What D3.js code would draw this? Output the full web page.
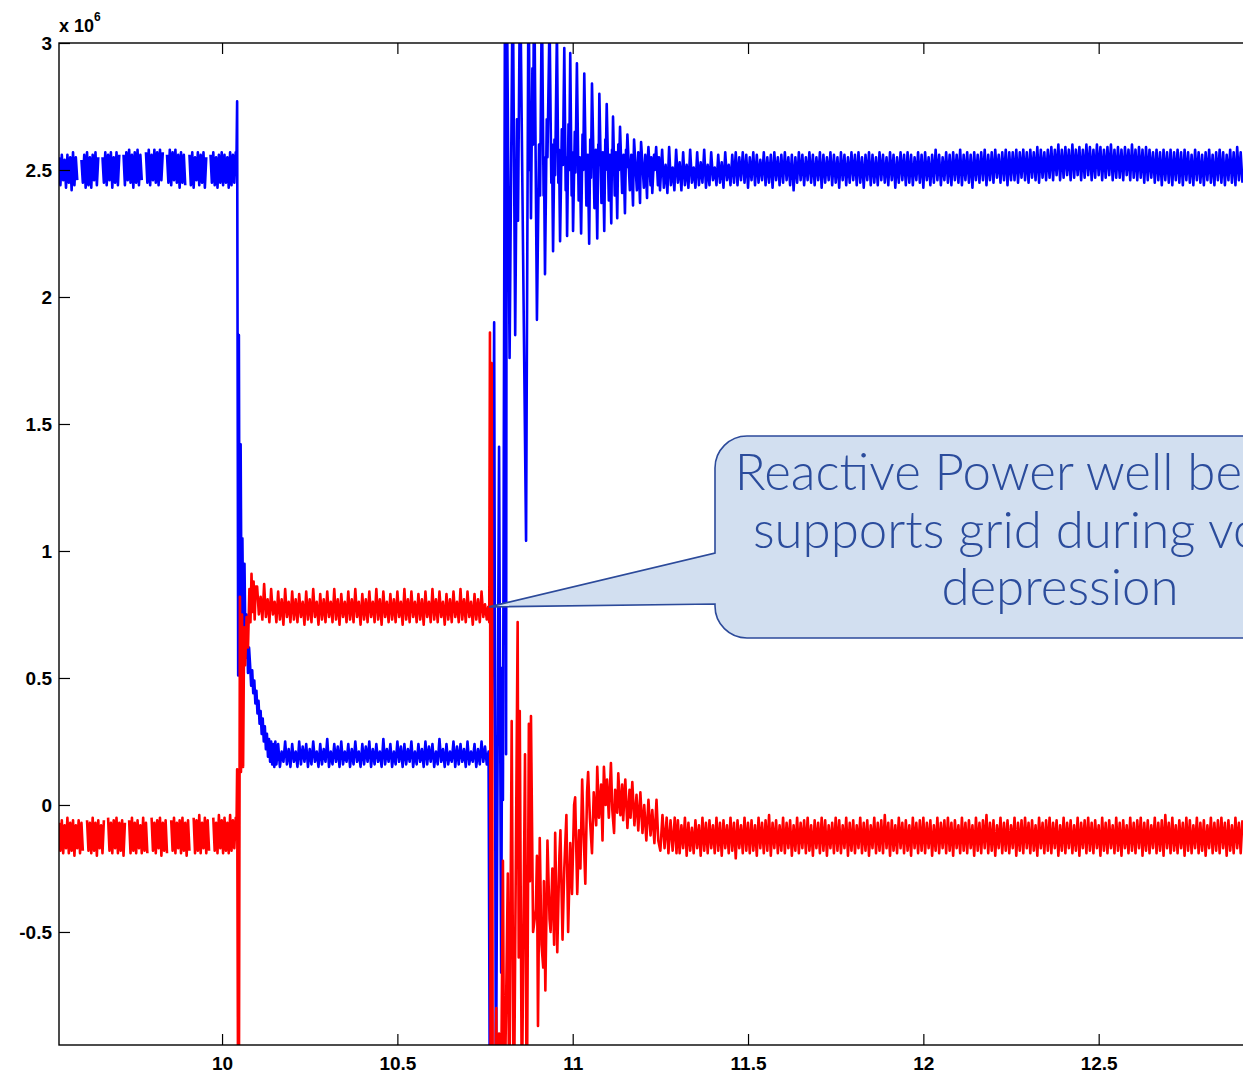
<!DOCTYPE html>
<html>

<head>
    <meta charset="utf-8">
    <title>P and Q during voltage dip</title>
    <script src="https://d3js.org/d3.v7.min.js"></script>
    <style>
        body { margin: 0; background: #fff; }
        .tick text { font-family: 'Liberation Sans', Arial, sans-serif; font-weight: bold; font-size: 19px; fill: #000; }
        .tick line { stroke: #000; stroke-width: 1.2; }
    </style>
</head>

<body>
    <svg width="1243" height="1073" id="mainsvg"></svg>
    <script>
        // time in s, power in units of 10^6
        const xTickVals = [10, 10.5, 11, 11.5, 12, 12.5];
        const xTickLabels = ['10', '10.5', '11', '11.5', '12', '12.5'];
        const yTickVals = [-0.5, 0, 0.5, 1, 1.5, 2, 2.5, 3];
        const yTickLabels = ['-0.5', '0', '0.5', '1', '1.5', '2', '2.5', '3'];

        // ---- blue trace (active power) ----
        // before the fault: samples every 4 ms from 9.535 s
        const bluePreStart = 9.535, bluePreStep = 0.004;
        const bluePre = [
            2.55, 2.44, 2.56, 2.46, 2.54, 2.43, 2.56, 2.45, 2.55, 2.42, 2.57, 2.44, 2.55, 2.46, null, null,
            2.54, 2.45, 2.56, 2.43, 2.57, 2.44, 2.55, 2.43, 2.56, 2.46, 2.57, 2.44, 2.55, null, null,
            2.55, 2.45, 2.57, 2.44, 2.56, 2.46, 2.57, 2.43, 2.55, 2.45, 2.57, 2.44, 2.56, null, null,
            2.56, 2.44, 2.57, 2.46, 2.58, 2.45, 2.56, 2.43, 2.57, 2.45, 2.58, 2.44, 2.56, 2.46, null, null,
            2.57, 2.45, 2.58, 2.44, 2.56, 2.46, 2.58, 2.45, 2.57, 2.44, 2.58, 2.46, 2.57, null, null,
            2.56, 2.45, 2.58, 2.44, 2.57, 2.46, 2.58, 2.45, 2.56, 2.43, 2.57, 2.45, 2.56, 2.44, null, null,
            2.56, 2.44, 2.57, 2.43, 2.55, 2.46, 2.57, 2.44, 2.56, 2.45, 2.57, 2.43, 2.55, null, null,
            2.56, 2.45, 2.57, 2.44, 2.55, 2.43, 2.56, 2.45, 2.57, 2.44, 2.56, 2.45, 2.55, 2.43, 2.57, 2.44, 2.56, 2.45, 2.57
        ];
        // fault inception
        const blueFault = [
            [10.041, 2.52], [10.043, 2.77], [10.046, 0.51], [10.048, 1.85], [10.050, 0.75], [10.053, 1.42],
            [10.056, 0.62], [10.058, 1.05], [10.061, 0.60], [10.064, 0.95], [10.067, 0.58], [10.070, 0.75],
            [10.074, 0.52], [10.077, 0.62], [10.080, 0.55], [10.083, 0.47], [10.086, 0.53], [10.089, 0.44],
            [10.092, 0.49], [10.095, 0.40], [10.098, 0.45], [10.101, 0.36], [10.104, 0.41], [10.107, 0.32],
            [10.110, 0.37], [10.113, 0.28], [10.116, 0.34], [10.119, 0.25], [10.122, 0.31], [10.125, 0.22],
            [10.128, 0.28], [10.131, 0.19], [10.134, 0.26], [10.137, 0.17], [10.140, 0.25], [10.143, 0.16],
            [10.146, 0.24], [10.149, 0.15], [10.152, 0.25], [10.155, 0.16]
        ];
        // during the dip: every 5 ms from 10.16 s
        const blueMidStart = 10.16, blueMidStep = 0.005;
        const blueMid = [
            0.24, 0.15, 0.21, 0.17, 0.25, 0.16, 0.22, 0.15, 0.24, 0.17, 0.21, 0.15, 0.25, 0.16, 0.23, 0.17, 0.24, 0.15, 0.22, 0.16,
            0.25, 0.17, 0.21, 0.15, 0.24, 0.16, 0.22, 0.17, 0.26, 0.15, 0.21, 0.16, 0.24, 0.17, 0.23, 0.15, 0.25, 0.16, 0.21, 0.17,
            0.24, 0.15, 0.22, 0.16, 0.25, 0.17, 0.21, 0.15, 0.24, 0.16, 0.23, 0.17, 0.25, 0.15, 0.22, 0.16, 0.24, 0.17, 0.21, 0.15,
            0.26, 0.16, 0.22, 0.17, 0.24, 0.15, 0.21, 0.16, 0.25, 0.17, 0.23, 0.15, 0.24, 0.16, 0.22, 0.17, 0.25, 0.15, 0.21, 0.16,
            0.24, 0.17, 0.22, 0.15, 0.25, 0.16, 0.23, 0.17, 0.24, 0.15, 0.21, 0.16, 0.26, 0.17, 0.22, 0.15, 0.24, 0.16, 0.21, 0.17,
            0.25, 0.15, 0.23, 0.16, 0.24, 0.17, 0.22, 0.15, 0.25, 0.16, 0.21, 0.17, 0.24, 0.15, 0.22, 0.16, 0.25, 0.17, 0.23, 0.16
        ];
        // fault clearing and the decaying swing afterwards
        const blueClear = [
            [10.760, 0.21], [10.764, -1.3], [10.776, 1.90], [10.781, -1.2], [10.790, 1.41], [10.796, -0.66],
            [10.799, 0.54], [10.801, 0.02], [10.807, 3.3], [10.810, 0.2], [10.812, 3.3], [10.820, 1.76],
            [10.829, 3.3], [10.836, 1.85], [10.841, 2.7], [10.844, 2.3], [10.850, 3.3], [10.867, 1.04],
            [10.874, 3.3], [10.878, 2.5], [10.879, 2.7], [10.881, 2.31], [10.885, 2.9], [10.887, 2.6],
            [10.890, 3.3], [10.898, 1.91], [10.904, 2.6], [10.907, 2.4], [10.912, 3.2], [10.917, 2.4],
            [10.918, 2.55], [10.921, 2.09], [10.926, 2.7], [10.928, 2.55], [10.934, 3.1], [10.939, 2.45],
            [10.941, 2.6], [10.944, 2.18], [10.948, 2.62], [10.950, 2.48], [10.955, 3.05], [10.959, 2.45],
            [10.961, 2.58], [10.964, 2.22], [10.969, 2.66], [10.972, 2.52], [10.976, 2.98], [10.980, 2.42],
            [10.982, 2.55], [10.984, 2.24], [10.988, 2.68], [10.990, 2.50], [10.993, 2.96], [10.997, 2.40],
            [10.999, 2.57], [11.001, 2.26], [11.006, 2.65], [11.008, 2.49], [11.012, 2.92], [11.017, 2.38],
            [11.020, 2.55], [11.024, 2.25], [11.028, 2.64], [11.030, 2.50], [11.033, 2.88], [11.039, 2.36],
            [11.043, 2.56], [11.047, 2.21], [11.050, 2.62], [11.052, 2.47], [11.055, 2.84], [11.062, 2.35],
            [11.066, 2.58], [11.070, 2.23], [11.073, 2.60], [11.074, 2.52], [11.076, 2.80], [11.082, 2.37],
            [11.086, 2.57], [11.090, 2.26], [11.093, 2.62], [11.094, 2.50], [11.097, 2.76], [11.103, 2.38],
            [11.106, 2.56], [11.110, 2.29], [11.112, 2.58], [11.113, 2.50], [11.115, 2.71], [11.120, 2.40],
            [11.123, 2.57], [11.127, 2.31], [11.130, 2.60], [11.132, 2.50], [11.135, 2.67], [11.141, 2.41],
            [11.145, 2.56], [11.149, 2.33], [11.152, 2.58], [11.153, 2.51], [11.156, 2.64], [11.163, 2.42],
            [11.167, 2.56], [11.172, 2.36], [11.174, 2.55], [11.175, 2.62], [11.183, 2.42], [11.187, 2.57],
            [11.192, 2.37], [11.194, 2.55], [11.195, 2.61], [11.203, 2.43], [11.207, 2.56], [11.212, 2.39],
            [11.214, 2.54], [11.216, 2.59], [11.222, 2.44], [11.224, 2.55], [11.227, 2.41], [11.232, 2.56],
            [11.234, 2.50], [11.238, 2.59], [11.243, 2.44], [11.246, 2.55], [11.249, 2.42]
        ];
        // after recovery: every 5 ms from 11.255 s
        const bluePostStart = 11.255, bluePostStep = 0.005;
        const bluePost = [
            2.58, 2.43, 2.52, 2.41, 2.59, 2.44, 2.51, 2.42, 2.58, 2.45, 2.53, 2.42, 2.57, 2.44, 2.52, 2.43, 2.58, 2.45, 2.51, 2.43,
            2.57, 2.44, 2.53, 2.45, 2.58, 2.43, 2.52, 2.44, 2.57, 2.46, 2.51, 2.44, 2.56, 2.45, 2.53, 2.43, 2.57, 2.46, 2.52, 2.44,
            2.56, 2.45, 2.57, 2.44, 2.55, 2.46, 2.57, 2.45, 2.56, 2.43, 2.55, 2.46, 2.57, 2.44, 2.56, 2.45, 2.54, 2.46, 2.57, 2.44,
            2.55, 2.45, 2.56, 2.43, 2.57, 2.46, 2.55, 2.44, 2.56, 2.45, 2.57, 2.46, 2.55, 2.44, 2.56, 2.42, 2.55, 2.45, 2.57, 2.46,
            2.56, 2.44, 2.55, 2.46, 2.57, 2.45, 2.56, 2.44, 2.55, 2.46, 2.57, 2.43, 2.56, 2.45, 2.55, 2.46, 2.57, 2.44, 2.56, 2.45,
            2.55, 2.43, 2.57, 2.46, 2.56, 2.44, 2.55, 2.45, 2.57, 2.46, 2.56, 2.44, 2.57, 2.45, 2.55, 2.43, 2.56, 2.46, 2.57, 2.44,
            2.56, 2.45, 2.55, 2.44, 2.57, 2.46, 2.56, 2.45, 2.55, 2.44, 2.57, 2.46, 2.56, 2.43, 2.55, 2.45, 2.57, 2.46, 2.56, 2.44,
            2.57, 2.45, 2.56, 2.44, 2.55, 2.46, 2.57, 2.45, 2.56, 2.43, 2.57, 2.46, 2.55, 2.44, 2.56, 2.45, 2.58, 2.46, 2.56, 2.44,
            2.55, 2.46, 2.57, 2.45, 2.56, 2.44, 2.57, 2.46, 2.56, 2.45, 2.58, 2.44, 2.56, 2.46, 2.57, 2.45, 2.56, 2.43, 2.57, 2.46,
            2.56, 2.45, 2.57, 2.46, 2.58, 2.44, 2.56, 2.46, 2.57, 2.45, 2.58, 2.47, 2.56, 2.45, 2.57, 2.46, 2.58, 2.44, 2.57, 2.46,
            2.57, 2.46, 2.58, 2.45, 2.57, 2.47, 2.58, 2.46, 2.57, 2.45, 2.58, 2.47, 2.57, 2.46, 2.59, 2.45, 2.58, 2.47, 2.57, 2.46,
            2.58, 2.47, 2.59, 2.46, 2.58, 2.48, 2.60, 2.46, 2.58, 2.47, 2.59, 2.48, 2.58, 2.46, 2.60, 2.47, 2.58, 2.48, 2.59, 2.46,
            2.58, 2.47, 2.60, 2.48, 2.59, 2.46, 2.58, 2.47, 2.60, 2.48, 2.59, 2.46, 2.58, 2.47, 2.59, 2.48, 2.60, 2.46, 2.58, 2.47,
            2.59, 2.47, 2.58, 2.46, 2.59, 2.48, 2.58, 2.46, 2.60, 2.47, 2.58, 2.46, 2.59, 2.47, 2.58, 2.45, 2.59, 2.46, 2.58, 2.47,
            2.57, 2.45, 2.58, 2.46, 2.57, 2.44, 2.58, 2.46, 2.57, 2.45, 2.58, 2.44, 2.57, 2.46, 2.58, 2.45, 2.57, 2.44, 2.58, 2.46,
            2.57, 2.45, 2.56, 2.44, 2.58, 2.46, 2.57, 2.45, 2.56, 2.44, 2.57, 2.46, 2.58, 2.45, 2.56, 2.44, 2.57, 2.46, 2.58, 2.45,
            2.57, 2.44, 2.56, 2.46, 2.58, 2.45, 2.57, 2.44, 2.59, 2.46, 2.57, 2.45
        ];

        // ---- red trace (reactive power) ----
        const redPreStart = 9.535, redPreStep = 0.004;
        const redPre = [
            -0.07, -0.18, -0.06, -0.19, -0.08, -0.17, -0.05, -0.19, -0.07, -0.18, -0.06, -0.20, -0.08, -0.17, -0.06, -0.19, -0.07, -0.18, null, null,
            -0.06, -0.18, -0.07, -0.19, -0.05, -0.18, -0.07, -0.20, -0.06, -0.17, -0.08, -0.19, -0.06, null, null,
            -0.05, -0.18, -0.07, -0.19, -0.06, -0.17, -0.05, -0.19, -0.07, -0.18, -0.06, -0.20, -0.07, null, null,
            -0.06, -0.19, -0.05, -0.18, -0.07, -0.19, -0.06, -0.17, -0.08, -0.19, -0.05, -0.18, -0.07, -0.19, null, null,
            -0.05, -0.18, -0.07, -0.19, -0.06, -0.17, -0.05, -0.20, -0.07, -0.18, -0.06, -0.19, null, null,
            -0.06, -0.18, -0.05, -0.19, -0.07, -0.17, -0.06, -0.19, -0.05, -0.18, -0.07, -0.20, -0.06, -0.18, null, null,
            -0.05, -0.19, -0.06, -0.18, -0.04, -0.19, -0.07, -0.17, -0.05, -0.19, -0.06, -0.18, null, null,
            -0.05, -0.18, -0.07, -0.19, -0.04, -0.17, -0.06, -0.19, -0.05, -0.18, -0.07, -0.19, -0.04, -0.18, -0.06, -0.17, -0.05
        ];
        const redFault = [
            [10.041, -0.12], [10.043, 0.14], [10.046, -1.3], [10.048, -1.2], [10.051, 0.82], [10.054, 0.13],
            [10.057, 0.75], [10.060, 0.15], [10.063, 0.70], [10.066, 0.55], [10.070, 0.74], [10.074, 0.62],
            [10.078, 0.85], [10.081, 0.72], [10.084, 0.91], [10.087, 0.76], [10.090, 0.88], [10.093, 0.73],
            [10.096, 0.86]
        ];
        const redMidStart = 10.10, redMidStep = 0.005;
        const redMid = [
            0.86, 0.75, 0.82, 0.73, 0.87, 0.74, 0.81, 0.72, 0.85, 0.75, 0.80, 0.72, 0.84, 0.73, 0.81, 0.71, 0.85, 0.74, 0.80, 0.72,
            0.84, 0.73, 0.81, 0.72, 0.83, 0.74, 0.80, 0.71, 0.84, 0.73, 0.81, 0.72, 0.85, 0.74, 0.80, 0.71, 0.83, 0.73, 0.81, 0.72,
            0.84, 0.74, 0.80, 0.72, 0.85, 0.73, 0.81, 0.71, 0.83, 0.74, 0.80, 0.72, 0.84, 0.73, 0.81, 0.72, 0.85, 0.74, 0.80, 0.71,
            0.83, 0.73, 0.81, 0.72, 0.84, 0.74, 0.80, 0.72, 0.85, 0.73, 0.81, 0.71, 0.84, 0.74, 0.80, 0.72, 0.83, 0.73, 0.81, 0.72,
            0.84, 0.74, 0.80, 0.71, 0.85, 0.73, 0.81, 0.72, 0.84, 0.74, 0.80, 0.72, 0.83, 0.73, 0.81, 0.71, 0.84, 0.74, 0.80, 0.72,
            0.85, 0.73, 0.81, 0.72, 0.84, 0.74, 0.80, 0.71, 0.83, 0.73, 0.81, 0.72, 0.84, 0.74, 0.80, 0.72, 0.85, 0.73, 0.81, 0.72,
            0.84, 0.74, 0.80, 0.71, 0.83, 0.73, 0.81, 0.72, 0.84, 0.74, 0.79, 0.73
        ];
        const redClear = [
            [10.759, 0.78], [10.762, 0.72], [10.764, 1.86], [10.766, -1.3], [10.769, 1.74], [10.772, -1.3],
            [10.776, -1.3], [10.782, -0.8], [10.785, -1.3], [10.790, -0.9], [10.795, -1.3], [10.801, -0.22],
            [10.805, -1.3], [10.815, -0.27], [10.819, -1.3], [10.826, 0.33], [10.832, -1.3], [10.843, 0.72],
            [10.846, -0.6], [10.849, 0.37], [10.855, -1.2], [10.864, 0.20], [10.869, -1.3], [10.875, 0.32],
            [10.878, -0.3], [10.881, 0.35], [10.887, -0.5], [10.895, -0.41], [10.898, -0.2], [10.901, -0.87],
            [10.906, -0.13], [10.911, -0.55], [10.916, -0.64], [10.918, -0.3], [10.922, -0.73], [10.928, -0.14],
            [10.934, -0.45], [10.937, -0.5], [10.942, -0.25], [10.947, -0.55], [10.950, -0.11], [10.956, -0.58],
            [10.962, -0.2], [10.965, -0.10], [10.971, -0.53], [10.976, -0.25], [10.982, -0.04], [10.987, -0.50],
            [10.993, -0.15], [10.998, -0.35], [11.004, 0.0], [11.007, 0.03], [11.013, -0.35], [11.018, -0.1],
            [11.022, -0.25], [11.027, 0.10], [11.032, -0.15], [11.036, -0.31], [11.041, 0.05], [11.044, 0.13],
            [11.049, -0.05], [11.055, -0.19], [11.060, 0.05], [11.067, -0.08], [11.070, 0.15], [11.075, -0.05],
            [11.081, 0.08], [11.085, -0.14], [11.089, 0.15], [11.094, 0.0], [11.098, 0.10], [11.103, -0.05],
            [11.109, 0.165], [11.113, -0.02], [11.118, -0.11], [11.121, 0.06], [11.127, -0.03], [11.130, 0.125],
            [11.136, -0.04], [11.141, 0.08], [11.144, -0.06], [11.150, 0.10], [11.156, -0.09], [11.162, 0.06],
            [11.165, -0.05], [11.170, 0.09], [11.176, -0.08], [11.182, 0.04], [11.187, -0.10], [11.193, 0.05],
            [11.199, -0.11], [11.204, 0.00], [11.210, -0.14], [11.216, 0.02], [11.222, -0.12], [11.227, -0.02],
            [11.233, -0.15], [11.239, 0.02], [11.244, -0.14], [11.250, -0.18], [11.256, -0.04], [11.262, -0.17],
            [11.268, -0.05], [11.273, -0.19], [11.279, -0.06], [11.285, -0.18], [11.291, -0.05], [11.296, -0.19]
        ];
        const redPostStart = 11.30, redPostStep = 0.005;
        const redPost = [
            -0.06, -0.19, -0.08, -0.17, -0.05, -0.20, -0.07, -0.18, -0.09, -0.19, -0.06, -0.17, -0.08, -0.20, -0.05, -0.18, -0.07, -0.19, -0.06, -0.17,
            -0.08, -0.19, -0.05, -0.18, -0.07, -0.20, -0.06, -0.17, -0.08, -0.19, -0.05, -0.18, -0.07, -0.21, -0.06, -0.17, -0.08, -0.19, -0.05, -0.18,
            -0.07, -0.19, -0.06, -0.18, -0.08, -0.20, -0.05, -0.17, -0.07, -0.19, -0.06, -0.18, -0.04, -0.20, -0.07, -0.17, -0.06, -0.19, -0.08, -0.18,
            -0.05, -0.19, -0.07, -0.17, -0.06, -0.20, -0.08, -0.18, -0.05, -0.19, -0.07, -0.17, -0.06, -0.19, -0.05, -0.18, -0.08, -0.20, -0.06, -0.17,
            -0.07, -0.19, -0.05, -0.18, -0.06, -0.20, -0.08, -0.17, -0.07, -0.19, -0.05, -0.18, -0.06, -0.19, -0.08, -0.17, -0.05, -0.20, -0.07, -0.18,
            -0.06, -0.19, -0.08, -0.17, -0.05, -0.19, -0.07, -0.18, -0.06, -0.20, -0.08, -0.17, -0.05, -0.19, -0.07, -0.18, -0.06, -0.19, -0.04, -0.17,
            -0.07, -0.20, -0.06, -0.18, -0.08, -0.19, -0.05, -0.17, -0.07, -0.19, -0.06, -0.18, -0.08, -0.20, -0.05, -0.17, -0.07, -0.19, -0.06, -0.18,
            -0.05, -0.19, -0.07, -0.17, -0.06, -0.20, -0.08, -0.18, -0.05, -0.19, -0.07, -0.17, -0.06, -0.19, -0.05, -0.18, -0.07, -0.20, -0.06, -0.17,
            -0.08, -0.19, -0.05, -0.18, -0.07, -0.19, -0.06, -0.17, -0.08, -0.20, -0.05, -0.18, -0.07, -0.19, -0.06, -0.17, -0.04, -0.19, -0.07, -0.18,
            -0.06, -0.20, -0.08, -0.17, -0.05, -0.19, -0.07, -0.18, -0.06, -0.19, -0.08, -0.17, -0.05, -0.20, -0.07, -0.18, -0.06, -0.19, -0.05, -0.17,
            -0.07, -0.19, -0.06, -0.18, -0.08, -0.20, -0.05, -0.17, -0.07, -0.19, -0.06, -0.18, -0.05, -0.19, -0.07, -0.17, -0.06, -0.20, -0.08, -0.18,
            -0.05, -0.19, -0.07, -0.17, -0.06, -0.19, -0.08, -0.18, -0.05, -0.20, -0.07, -0.17, -0.06, -0.19, -0.05, -0.18, -0.07, -0.19, -0.06, -0.17,
            -0.08, -0.20, -0.05, -0.18, -0.07, -0.19, -0.06, -0.17, -0.08, -0.19, -0.05, -0.18, -0.07, -0.20, -0.06, -0.17, -0.08, -0.19, -0.05, -0.18,
            -0.07, -0.19, -0.06, -0.17, -0.05, -0.20, -0.07, -0.18, -0.06, -0.19, -0.08, -0.17, -0.05, -0.19, -0.07, -0.18, -0.06, -0.20, -0.04, -0.17,
            -0.07, -0.19, -0.05, -0.18, -0.08, -0.19, -0.06, -0.17, -0.07, -0.20, -0.05, -0.18, -0.06, -0.19, -0.08, -0.17, -0.05, -0.19, -0.07, -0.18,
            -0.06, -0.20, -0.08, -0.17, -0.05, -0.19, -0.07, -0.18, -0.06, -0.19, -0.05, -0.17, -0.07, -0.20, -0.06, -0.18, -0.08, -0.19, -0.05, -0.17,
            -0.07, -0.19, -0.06
        ];

        const calloutLines = ['Reactive Power well behaved,', 'supports grid during voltage', 'depression'];
        const calloutTarget = [10.7615, 0.78];

        const svg = d3.select('#mainsvg');
        const margin = { top: 43, left: 59, bottom: 28 };
        const height = +svg.attr('height');
        const plotBottom = height - margin.bottom;
        const plotRight = 1274; // the box runs past the right edge of the picture

        const x = d3.scaleLinear().domain([9.535, 13]).range([margin.left, plotRight]);
        const y = d3.scaleLinear().domain([-0.945, 3]).range([plotBottom, margin.top]);

        const uniform = (t0, dt, vals) => vals.map((v, i) => ({ t: t0 + i * dt, v: v }));
        const pairs = arr => arr.map(d => ({ t: d[0], v: d[1] }));

        const blue = [].concat(
            uniform(bluePreStart, bluePreStep, bluePre),
            pairs(blueFault),
            uniform(blueMidStart, blueMidStep, blueMid),
            pairs(blueClear),
            uniform(bluePostStart, bluePostStep, bluePost));
        const red = [].concat(
            uniform(redPreStart, redPreStep, redPre),
            pairs(redFault),
            uniform(redMidStart, redMidStep, redMid),
            pairs(redClear),
            uniform(redPostStart, redPostStep, redPost));

        svg.append('defs').append('clipPath').attr('id', 'plotclip')
            .append('rect')
            .attr('x', margin.left).attr('y', margin.top)
            .attr('width', plotRight - margin.left).attr('height', plotBottom - margin.top);

        const line = d3.line()
            .defined(d => d.v !== null)
            .x(d => x(d.t))
            .y(d => y(d.v));

        const g = svg.append('g').attr('clip-path', 'url(#plotclip)');
        g.append('path').datum(blue)
            .attr('fill', 'none').attr('stroke', '#0000ff').attr('stroke-width', 2.6)
            .attr('stroke-linejoin', 'round').attr('d', line);
        g.append('path').datum(red)
            .attr('fill', 'none').attr('stroke', '#ff0000').attr('stroke-width', 2.6)
            .attr('stroke-linejoin', 'round').attr('d', line);

        // axes, ticks point inwards like matlab
        const xAxis = d3.axisBottom(x).tickValues(xTickVals)
            .tickFormat((d, i) => xTickLabels[i]).tickSizeInner(-11).tickSizeOuter(0).tickPadding(12);
        const xAxisTop = d3.axisTop(x).tickValues(xTickVals)
            .tickFormat('').tickSizeInner(-11).tickSizeOuter(0);
        const yAxis = d3.axisLeft(y).tickValues(yTickVals)
            .tickFormat((d, i) => yTickLabels[i]).tickSizeInner(-11).tickSizeOuter(0).tickPadding(7);

        svg.append('g').attr('transform', `translate(0, ${plotBottom})`).call(xAxis)
            .call(g => g.select('.domain').remove());
        svg.append('g').attr('transform', `translate(0, ${margin.top})`).call(xAxisTop)
            .call(g => g.select('.domain').remove());
        svg.append('g').attr('transform', `translate(${margin.left}, 0)`).call(yAxis)
            .call(g => g.select('.domain').remove());

        svg.append('rect')
            .attr('x', margin.left).attr('y', margin.top)
            .attr('width', plotRight - margin.left).attr('height', plotBottom - margin.top)
            .attr('fill', 'none').attr('stroke', '#000').attr('stroke-width', 1.4);

        const expo = svg.append('text')
            .attr('x', margin.left).attr('y', 32)
            .attr('font-family', "'Liberation Sans', Arial, sans-serif")
            .attr('font-weight', 'bold').attr('font-size', 18)
            .text('x 10');
        expo.append('tspan').attr('dy', -11).attr('font-size', 12).text('6');

        // callout bubble
        const tipX = x(calloutTarget[0]), tipY = y(calloutTarget[1]);
        const bx = 715, by = 436, bw = 720, bh = 202, r = 32;
        const bubble = d3.path();
        bubble.moveTo(bx + r, by);
        bubble.lineTo(bx + bw, by);
        bubble.lineTo(bx + bw, by + bh);
        bubble.lineTo(bx + r, by + bh);
        bubble.arcTo(bx, by + bh, bx, by + bh - r, r);
        bubble.lineTo(bx, 604);
        bubble.lineTo(tipX, tipY);
        bubble.lineTo(bx, 553);
        bubble.lineTo(bx, by + r);
        bubble.arcTo(bx, by, bx + r, by, r);
        bubble.closePath();

        svg.append('path').attr('d', bubble.toString())
            .attr('fill', '#d2dff0').attr('stroke', '#2c4a9a').attr('stroke-width', 1.6);

        svg.append('g').selectAll('text').data(calloutLines).join('text')
            .attr('x', 1060)
            .attr('y', (d, i) => 490 + i * 57.5)
            .attr('text-anchor', 'middle')
            .attr('font-family', "Lato, 'Open Sans', sans-serif")
            .attr('font-weight', 300)
            .attr('font-size', 51)
            .attr('fill', '#2b4c9c')
            .text(d => d);
    </script>
</body>

</html>
